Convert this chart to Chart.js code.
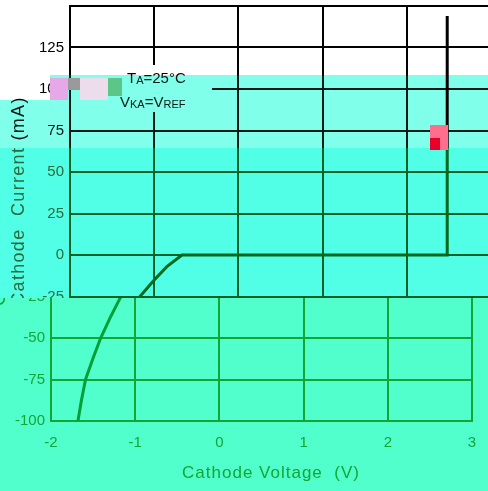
<!DOCTYPE html>
<html><head><meta charset="utf-8">
<script src="https://cdn.jsdelivr.net/npm/chart.js@4/dist/chart.umd.min.js"></script>
<style>
html,body{margin:0;padding:0;background:#fff;width:488px;height:491px;overflow:hidden;position:relative;}
.band{position:absolute;overflow:hidden;}
.band canvas{position:absolute;}
.blk{position:absolute;}
</style></head><body>
<script>
// ---- data ----
const voltage = [-1.68, -1.64, -1.59, -1.50, -1.41, -1.30, -1.17, -1.00, -0.85, -0.67, 2.48, 2.48];
const current = [-100, -88, -75, -62, -50, -38, -25, -15, -7, 0, 0, 144];
const xMin = -2, xMax = 3, xStep = 1;
const yMin = -100, yMax = 150, yStep = 25;
const xTitle = 'Cathode Voltage  (V)';
const yTitle = 'Cathode  Current (mA)';
const note1 = [['T', false], ['A', true], ['=25°C', false]];
const note2 = [['V', false], ['KA', true], ['=V', false], ['REF', true]];

const SANS = '"Liberation Sans",Arial,sans-serif';
const W = 510, H = 491;

const schemes = {
  white: {bg:'#ffffff', grid:'#000000', text:'#000000', curve:'#000000'},
  cyan1: {bg:'#80ffea', grid:'#0a1a14', text:'#0a1a14', curve:'#000000'},
  cyan2: {bg:'#50ffe6', grid:'#086226', text:'#2c6a3c', curve:'#006a1c'},
  green: {bg:'#50ffcc', grid:'#12a634', text:'#12a634', curve:'#00a036'}
};

function drawRich(ctx, parts, x, y, size) {
  let cx = x;
  for (const [t, sub] of parts) {
    ctx.font = (sub ? Math.round(size*0.75) : size) + 'px ' + SANS;
    ctx.fillText(t, cx, sub ? y + 1 : y);
    cx += ctx.measureText(t).width;
  }
}

function makeChart(rect, sc, shift) {
  const div = document.createElement('div');
  div.className = 'band';
  div.style.left = rect[0] + 'px'; div.style.top = rect[1] + 'px';
  div.style.width = rect[2] + 'px'; div.style.height = rect[3] + 'px';
  div.style.background = sc.bg;
  const cv = document.createElement('canvas');
  cv.width = W; cv.height = H;
  cv.style.width = W + 'px'; cv.style.height = H + 'px';
  cv.style.left = (shift - rect[0]) + 'px';
  cv.style.top = (-rect[1]) + 'px';
  div.appendChild(cv);
  document.body.appendChild(div);

  const deco = {
    id: 'deco',
    beforeDatasetsDraw(chart) {
      const ctx = chart.ctx, a = chart.chartArea;
      ctx.save();
      ctx.fillStyle = sc.bg;
      ctx.fillRect(a.left + 2, 65, 140, 47);
      ctx.fillStyle = sc.text;
      ctx.textBaseline = 'alphabetic';
      drawRich(ctx, note1, a.left + 57, 83, 15);
      drawRich(ctx, note2, a.left + 50, 107, 15);
      ctx.restore();
    },
    afterDraw(chart) {
      const ctx = chart.ctx, a = chart.chartArea;
      ctx.save();
      ctx.fillStyle = sc.text;
      ctx.textAlign = 'center';
      ctx.textBaseline = 'middle';
      try { ctx.letterSpacing = '1px'; } catch(e) {}
      ctx.font = '17px ' + SANS;
      ctx.fillText(xTitle, a.left + 220, 473);
      ctx.translate(a.left - 51, 201);
      ctx.rotate(-Math.PI/2);
      try { ctx.letterSpacing = '1.3px'; } catch(e) {}
      ctx.font = '18px ' + SANS;
      ctx.fillText(yTitle, 0, 0);
      ctx.restore();
    }
  };

  new Chart(cv, {
    type: 'scatter',
    data: { datasets: [{
      data: voltage.map((v, i) => ({x: v, y: current[i]})),
      showLine: true, borderColor: sc.curve, borderWidth: 3,
      pointRadius: 0, tension: 0, fill: false
    }]},
    options: {
      responsive: false, animation: false, devicePixelRatio: 1,
      layout: { padding: {top: 6, right: W - 491, left: 0, bottom: 0} },
      plugins: { legend: {display: false}, tooltip: {enabled: false}, title: {display: false} },
      scales: {
        x: {
          type: 'linear', min: xMin, max: xMax,
          ticks: { stepSize: xStep, color: sc.text, padding: 13, maxRotation: 0,
                   font: {family: SANS, size: 15} },
          grid: { color: sc.grid, lineWidth: 2, drawTicks: false },
          border: { color: sc.grid, width: 2 },
          afterFit(s) { s.height = 70; s.paddingLeft = 0; s.paddingRight = 0; }
        },
        y: {
          type: 'linear', min: yMin, max: yMax,
          ticks: { stepSize: yStep, color: sc.text, padding: 6,
                   font: {family: SANS, size: 15},
                   callback: v => (v === yMax ? '' : v) },
          grid: { color: sc.grid, lineWidth: 2, drawTicks: false },
          border: { color: sc.grid, width: 2 },
          afterFit(s) { s.width = 70; s.paddingTop = 0; s.paddingBottom = 0; }
        }
      }
    },
    plugins: [deco]
  });
}

// upper part (true layout) and lower, shifted part
makeChart([0, 0, 488, 75], schemes.white, 0);
makeChart([0, 75, 50, 25], schemes.white, 0);
makeChart([50, 75, 438, 73], schemes.cyan1, 0);
makeChart([0, 100, 50, 48], schemes.cyan1, 0);
makeChart([0, 148, 488, 150], schemes.cyan2, 0);
makeChart([0, 298, 488, 193], schemes.green, -19);

// decorative artefact blocks
const blocks = [
  [50, 78, 18, 22, '#e6a8e6'], [68, 78, 12, 12, '#9a9a9a'], [80, 78, 28, 22, '#ecdcec'],
  [108, 78, 14, 18, '#5cc688'], [430, 125, 18, 25, '#ff6e8c'], [430, 138, 10, 12, '#e8002a']
];
for (const b of blocks) {
  const d = document.createElement('div');
  d.className = 'blk';
  d.style.left = b[0] + 'px'; d.style.top = b[1] + 'px';
  d.style.width = b[2] + 'px'; d.style.height = b[3] + 'px';
  d.style.background = b[4];
  document.body.appendChild(d);
}
</script>
</body></html>
